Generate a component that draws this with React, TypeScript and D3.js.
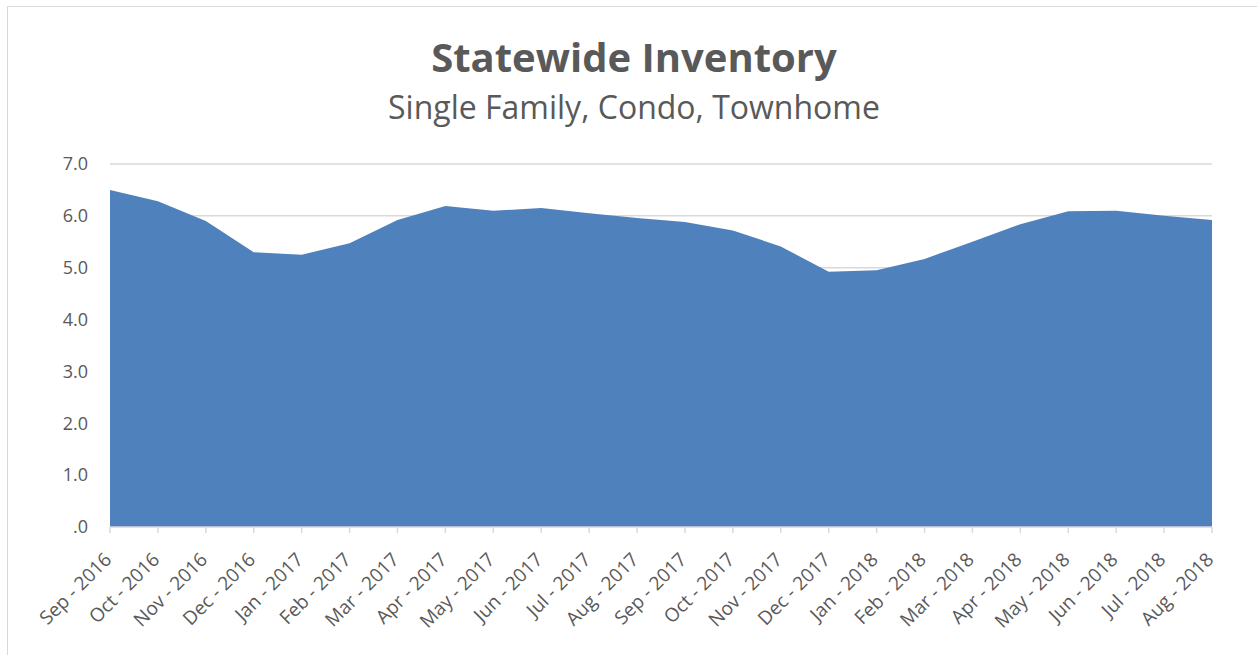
import React from "react";
import * as d3 from "d3";

const months = [
  "Sep - 2016", "Oct - 2016", "Nov - 2016", "Dec - 2016", "Jan - 2017", "Feb - 2017",
  "Mar - 2017", "Apr - 2017", "May - 2017", "Jun - 2017", "Jul - 2017", "Aug - 2017",
  "Sep - 2017", "Oct - 2017", "Nov - 2017", "Dec - 2017", "Jan - 2018", "Feb - 2018",
  "Mar - 2018", "Apr - 2018", "May - 2018", "Jun - 2018", "Jul - 2018", "Aug - 2018",
];
const inventory = [
  6.50, 6.28, 5.90, 5.30, 5.25, 5.47,
  5.92, 6.19, 6.10, 6.15, 6.05, 5.96,
  5.88, 5.72, 5.41, 4.92, 4.95, 5.17,
  5.50, 5.84, 6.09, 6.10, 6.00, 5.92,
];
const yTicks = [0, 1, 2, 3, 4, 5, 6, 7];
const title = "Statewide Inventory";
const subtitle = "Single Family, Condo, Townhome";

const W = 1257;
const H = 655;
const M = { left: 110, right: 1212, top: 164, bottom: 527 };
const TEXT = "#595959";
const GRID = "#d9d9d9";
const FILL = "#4f81bd";
const FONT = "'Open Sans', sans-serif";

export default function App() {
  const x = d3.scalePoint<string>().domain(months).range([M.left, M.right]);
  const y = d3.scaleLinear().domain([0, 7]).range([M.bottom, M.top]);
  const area = d3
    .area<number>()
    .x((_, i) => x(months[i]) as number)
    .y0(y(0))
    .y1((d) => y(d));
  const fmt = (v: number) => (v === 0 ? ".0" : d3.format(".1f")(v));

  return (
    <svg
      width={W}
      height={H}
      style={{ position: "absolute", left: 0, top: 0, background: "#fff" }}
      fontFamily={FONT}
    >
      <rect x={7.5} y={6.5} width={W + 20} height={H + 20} fill="#fff" stroke={GRID} strokeWidth={1} />
      <text x={634} y={72} textAnchor="middle" fontWeight={700} fontSize={40} fill={TEXT}>
        {title}
      </text>
      <text x={634} y={119} textAnchor="middle" fontSize={32} fill={TEXT}>
        {subtitle}
      </text>
      {yTicks.map((t) => (
        <g key={t}>
          {t > 0 && (
            <line x1={M.left} x2={M.right} y1={y(t)} y2={y(t)} stroke={GRID} strokeWidth={1.5} />
          )}
          <text x={88} y={y(t)} dy="0.35em" textAnchor="end" fontSize={18} fill={TEXT}>
            {fmt(t)}
          </text>
        </g>
      ))}
      <path d={area(inventory) || ""} fill={FILL} />
      <line x1={M.left} x2={M.right} y1={y(0)} y2={y(0)} stroke={GRID} strokeWidth={1.5} />
      {months.map((m) => {
        const px = x(m) as number;
        return (
          <g key={m}>
            <line x1={px} x2={px} y1={y(0)} y2={y(0) + 6} stroke={GRID} strokeWidth={1.5} />
            <text
              transform={`translate(${px - 2},${y(0) + 29}) rotate(-45)`}
              textAnchor="end"
              dy="0.35em"
              fontSize={19}
              fill={TEXT}
            >
              {m}
            </text>
          </g>
        );
      })}
    </svg>
  );
}
